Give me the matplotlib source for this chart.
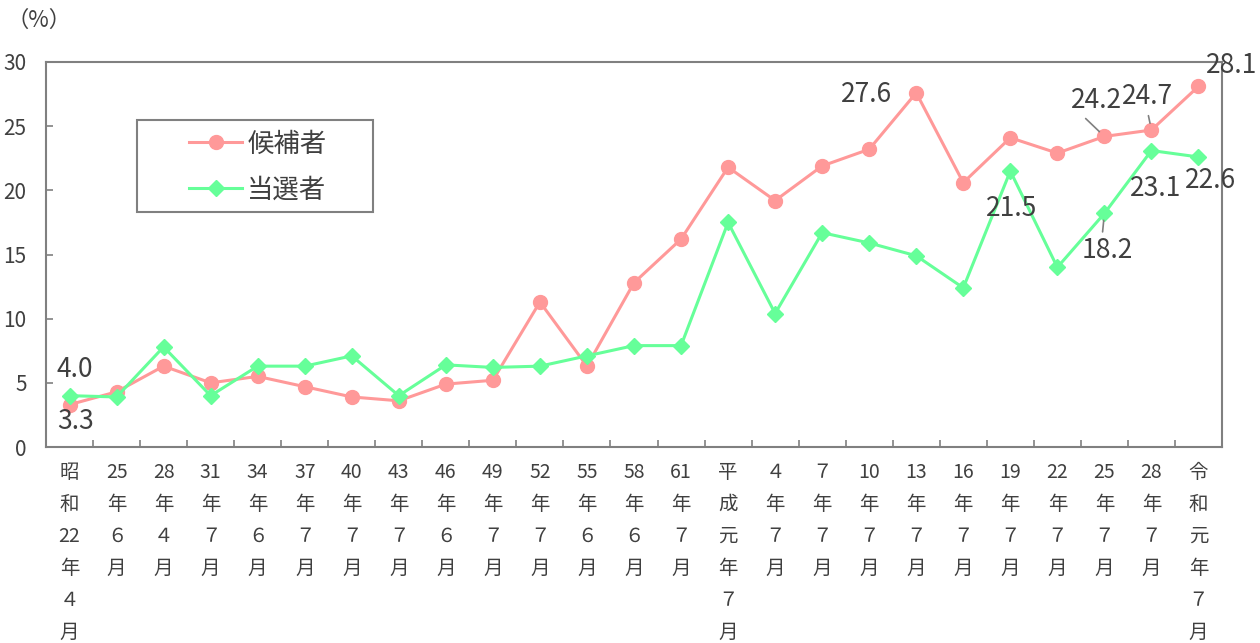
import matplotlib
matplotlib.use("Agg")
import matplotlib.pyplot as plt
from matplotlib.patches import Rectangle

plt.rcParams['font.family'] = ['Noto Sans CJK JP', 'DejaVu Sans']

categories = ["昭\n和\n22\n年\n４\n月", "25\n年\n６\n月", "28\n年\n４\n月", "31\n年\n７\n月",
              "34\n年\n６\n月", "37\n年\n７\n月", "40\n年\n７\n月", "43\n年\n７\n月",
              "46\n年\n６\n月", "49\n年\n７\n月", "52\n年\n７\n月", "55\n年\n６\n月",
              "58\n年\n６\n月", "61\n年\n７\n月", "平\n成\n元\n年\n７\n月", "４\n年\n７\n月",
              "７\n年\n７\n月", "10\n年\n７\n月", "13\n年\n７\n月", "16\n年\n７\n月",
              "19\n年\n７\n月", "22\n年\n７\n月", "25\n年\n７\n月", "28\n年\n７\n月",
              "令\n和\n元\n年\n７\n月"]
candidates = [3.3, 4.3, 6.3, 5.0, 5.5, 4.7, 3.9, 3.6, 4.9, 5.2, 11.3, 6.3, 12.8, 16.2,
              21.8, 19.2, 21.9, 23.2, 27.6, 20.6, 24.1, 22.9, 24.2, 24.7, 28.1]
winners = [4.0, 3.9, 7.8, 4.0, 6.3, 6.3, 7.1, 4.0, 6.4, 6.2, 6.3, 7.1, 7.9, 7.9,
           17.5, 10.4, 16.7, 15.9, 14.9, 12.4, 21.5, 14.0, 18.2, 23.1, 22.6]
series_names = ["候補者", "当選者"]
yticks = [0, 5, 10, 15, 20, 25, 30]

# labelled points: (index, offset in points, leader relpos or None)
cand_labels = [(0, (4, -12), None), (18, (-36, -1), None), (22, (-6, 26), (0.2, 0.0)),
               (23, (-3, 24), (0.5, 0.0)), (24, (24, 15), None)]
win_labels = [(0, (4, 19), None), (20, (1, -27), None), (22, (2, -27), (0.4, 1.0)),
              (23, (3, -27), None), (24, (9, -17), None)]

pink = "#FF9999"
green = "#66FF99"
textc = "#404040"

fig = plt.figure(figsize=(12.6, 6.43), dpi=100)
ax = fig.add_axes([46/1260, 1-447/643, 1176/1260, 385/643])

x = list(range(len(categories)))
l1, = ax.plot(x, candidates, color=pink, lw=2.2, marker='o', ms=10, mec=pink, mfc=pink,
              label=series_names[0], zorder=3)
l2, = ax.plot(x, winners, color=green, lw=2.2, marker='D', ms=8, mec=green, mfc=green,
              label=series_names[1], zorder=4)

ax.set_xlim(-0.5, len(categories) - 0.5)
ax.set_ylim(0, 30)
ax.set_yticks(yticks)
ax.set_yticklabels([str(v) for v in yticks])
ax.set_xticks(x)
ax.set_xticklabels(categories, linespacing=1.68)
ax.set_xticks([i + 0.5 for i in x[:-1]], minor=True)
ax.tick_params(axis='x', which='major', length=0, pad=11, labelsize=14, colors=textc)
ax.tick_params(axis='x', which='minor', direction='in', length=5, width=1.2, color='#808080')
ax.tick_params(axis='y', direction='in', length=5, width=1.2, color='#808080',
               pad=14, labelsize=15, labelcolor=textc)
for sp in ax.spines.values():
    sp.set_color('#808080')
    sp.set_linewidth(1.5)

def add_labels(vals, specs):
    for i, off, relpos in specs:
        kw = {}
        if relpos is not None:
            kw['arrowprops'] = dict(arrowstyle='-', color='#808080', lw=1.2,
                                    shrinkA=2, shrinkB=5, relpos=relpos)
        ax.annotate(f"{vals[i]:.1f}", xy=(i, vals[i]), xytext=off, textcoords='offset points',
                    ha='center', va='center', fontsize=19, color=textc, zorder=5,
                    annotation_clip=False, **kw)

add_labels(candidates, cand_labels)
add_labels(winners, win_labels)

# legend box
ax.add_patch(Rectangle((91/1176, 235/385), 236/1176, 92/385, transform=ax.transAxes,
                       fill=False, edgecolor='#808080', lw=1.5, zorder=6))
ax.legend(handles=[l1, l2], loc='center', bbox_to_anchor=((258-46)/1176, (447-167)/385),
          frameon=False, fontsize=19, handlelength=2.0,
          handletextpad=0.2, labelspacing=0.72, labelcolor=textc)

fig.text(6/1260, 1-20/643, "（%）", fontsize=16, color=textc, va='center', ha='left')

fig.savefig("out.png", dpi=100)
